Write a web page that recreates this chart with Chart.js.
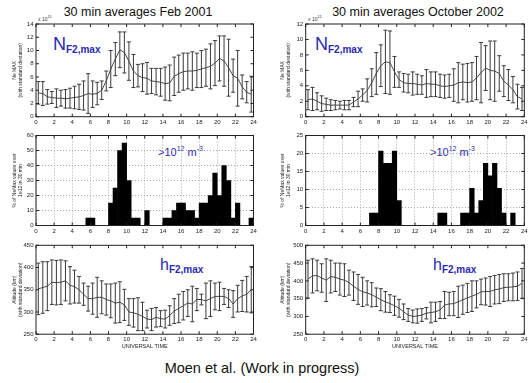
<!DOCTYPE html>
<html><head><meta charset="utf-8">
<script src="https://cdn.jsdelivr.net/npm/chart.js@4"></script>
<style>
body{margin:0;background:#fff;width:531px;height:383px;position:relative;overflow:hidden;font-family:Arial,"Liberation Sans",Helvetica,sans-serif}
canvas{position:absolute;display:block}
.t{position:absolute;white-space:nowrap;line-height:1}
.blue{color:#2a2ab0}
</style></head><body>
<div class="t" style="left:0;width:276px;text-align:center;top:6px;font-size:12.5px;color:#111">30 min averages Feb 2001</div>
<div class="t" style="left:284px;width:268px;text-align:center;top:6px;font-size:12.5px;color:#111">30 min averages October 2002</div>
<div class="t" style="left:0;width:524px;text-align:center;top:361px;font-size:14.5px;color:#111">Moen et al. (Work in progress)</div>

<div class="t" style="left:38px;top:15px;font-size:5px;color:#333">x 10<sup style="font-size:4px">11</sup></div>
<div class="t" style="left:308px;top:15px;font-size:5px;color:#333">x 10<sup style="font-size:4px">11</sup></div>

<div class="t blue" style="left:53px;top:35px;font-size:18px;line-height:18px">N<span style="font-size:10px;font-weight:bold;vertical-align:-3px">F2,max</span></div>
<div class="t blue" style="left:315px;top:35px;font-size:18px;line-height:18px">N<span style="font-size:10px;font-weight:bold;vertical-align:-3px">F2,max</span></div>

<div class="t blue" style="left:158px;top:143px;font-size:11px;line-height:11px">&gt;10<sup style="font-size:7px">12</sup> m<sup style="font-size:7px">-3</sup></div>
<div class="t blue" style="left:430px;top:143px;font-size:11px;line-height:11px">&gt;10<sup style="font-size:7px">12</sup> m<sup style="font-size:7px">-3</sup></div>

<div class="t blue" style="left:160px;top:257px;font-size:16px;line-height:16px">h<span style="font-size:10px;font-weight:bold;vertical-align:-3px">F2,max</span></div>
<div class="t blue" style="left:433px;top:257px;font-size:16px;line-height:16px">h<span style="font-size:10px;font-weight:bold;vertical-align:-3px">F2,max</span></div>

<script>
// ---- DATA ----
const hours = [0.25,0.75,1.25,1.75,2.25,2.75,3.25,3.75,4.25,4.75,5.25,5.75,6.25,6.75,7.25,7.75,
  8.25,8.75,9.25,9.75,10.25,10.75,11.25,11.75,12.25,12.75,13.25,13.75,14.25,14.75,15.25,15.75,
  16.25,16.75,17.25,17.75,18.25,18.75,19.25,19.75,20.25,20.75,21.25,21.75,22.25,22.75,23.25,23.75];

// NmF2 (x 1e11), Feb 2001
const febNeMean = [3.6,3.5,3.0,2.9,2.8,2.8,2.7,2.8,2.9,3.0,3.2,3.5,3.4,3.5,4.0,5.4,
  7.2,8.7,10.1,9.7,8.4,6.9,6.2,5.9,5.8,5.4,5.3,5.2,5.0,5.1,6.1,6.5,
  6.8,6.9,6.9,7.0,7.2,7.4,7.6,8.1,8.8,8.4,7.4,6.2,5.8,4.5,3.7,3.4];
const febNeStd = [1.7,1.8,1.1,0.9,1.4,1.2,1.4,1.5,1.7,1.9,2.2,3.0,2.0,1.7,1.4,1.5,
  2.8,2.5,2.7,3.1,2.9,2.5,1.7,2.1,2.4,1.9,2.0,2.1,2.5,2.7,2.9,2.8,
  2.8,2.7,2.9,2.6,2.8,2.8,3.4,3.4,3.4,3.8,4.3,2.5,4.2,1.8,1.6,2.7];

// NmF2 (x 1e11), Oct 2002
const octNeMean = [2.2,2.3,2.0,1.7,1.6,1.5,1.5,1.5,1.5,1.5,1.9,2.3,2.8,3.4,4.4,5.6,
  6.6,7.1,7.0,5.8,4.8,4.4,4.3,4.3,4.2,4.1,4.3,4.2,4.2,4.0,3.9,4.0,
  4.1,4.4,4.5,4.4,4.5,5.0,5.7,6.3,6.0,5.9,5.6,4.6,4.1,3.5,2.6,2.3];
const octNeStd = [1.3,1.5,1.1,1.0,0.8,0.7,0.6,0.5,0.6,0.6,0.6,1.0,0.8,1.5,1.8,2.7,
  2.7,4.1,4.1,2.0,1.0,1.2,1.2,1.5,1.3,1.2,1.8,1.6,1.6,1.5,1.5,1.5,
  2.1,2.6,2.3,2.5,2.5,2.8,3.9,2.9,3.8,3.9,2.3,2.0,2.0,1.7,1.6,1.5];

// % of NmF2 values over 1e12 in 30 min bins
const febPct = [0,0,0,0,0,0,0,0,0,0,0,5,5,0,0,0,
  15,25,50,55,30,5,5,0,10,0,0,0,5,5,10,15,
  15,10,10,5,15,15,20,35,20,40,30,5,15,0,0,5];
const octPct = [0,0,0,0,0,0,0,0,0,0,0,0,0,0,3.45,3.45,
  20.69,17.24,17.24,20.69,6.9,0,0,0,0,0,0,0,0,3.45,3.45,0,
  0,0,3.45,3.45,10.34,3.45,6.9,17.24,13.79,17.24,10.34,3.45,0,3.45,0,0];

// hmF2 (km)
const febHmMean = [352,355,358,367,366,367,370,360,357,350,340,330,330,333,333,328,
  325,320,322,316,300,298,295,290,284,283,288,285,284,292,302,308,
  314,320,318,328,328,325,330,335,335,335,330,318,330,336,340,350];
const febHmStd = [58,58,55,50,50,50,45,42,37,30,25,28,35,45,37,35,
  38,45,46,35,30,32,37,32,20,25,22,18,20,22,28,32,
  32,30,40,25,12,40,40,30,32,18,20,30,30,35,40,52];
const octHmMean = [405,414,415,408,402,412,410,405,402,395,385,376,369,366,361,354,
  347,341,336,330,323,313,304,300,301,304,309,311,313,318,332,335,
  336,341,347,352,357,362,369,370,370,375,377,381,382,383,385,393];
const octHmStd = [53,48,43,40,60,46,40,45,46,35,40,42,41,34,34,26,
  31,29,25,27,25,22,18,18,20,18,16,29,27,24,38,33,
  34,44,41,41,43,38,36,38,42,40,41,39,38,39,40,42];

// ---- RENDERING ----
const FONT = 'Arial, "Liberation Sans", Helvetica, sans-serif';

const boxPlugin = {
  id: 'box',
  afterDraw(chart) {
    const {ctx, chartArea: a, scales: {x, y}} = chart;
    ctx.save();
    ctx.strokeStyle = '#222'; ctx.lineWidth = 1; ctx.setLineDash([]);
    ctx.strokeRect(a.left, a.top, a.right - a.left, a.bottom - a.top);
    ctx.beginPath();
    x.ticks.forEach(t => {
      const px = x.getPixelForValue(t.value);
      ctx.moveTo(px, a.bottom); ctx.lineTo(px, a.bottom - 3);
      ctx.moveTo(px, a.top); ctx.lineTo(px, a.top + 3);
    });
    y.ticks.forEach(t => {
      const py = y.getPixelForValue(t.value);
      ctx.moveTo(a.left, py); ctx.lineTo(a.left + 3, py);
      ctx.moveTo(a.right, py); ctx.lineTo(a.right - 3, py);
    });
    ctx.stroke();
    ctx.restore();
  }
};

const errorBarPlugin = {
  id: 'errbars',
  afterDatasetsDraw(chart) {
    const ds = chart.data.datasets[0];
    if (!ds.errStd) return;
    const {ctx, scales: {x, y}} = chart;
    ctx.save();
    ctx.strokeStyle = '#3a3a3a'; ctx.lineWidth = 1;
    ds.data.forEach((p, i) => {
      const s = ds.errStd[i];
      const px = x.getPixelForValue(p.x);
      const yt = y.getPixelForValue(p.y + s), yb = y.getPixelForValue(p.y - s);
      ctx.beginPath();
      ctx.moveTo(px, yt); ctx.lineTo(px, yb);
      ctx.moveTo(px - 2, yt); ctx.lineTo(px + 2, yt);
      ctx.moveTo(px - 2, yb); ctx.lineTo(px + 2, yb);
      ctx.stroke();
    });
    ctx.restore();
  }
};

function panel(cfg) {
  const c = document.createElement('canvas');
  c.width = cfg.cw; c.height = cfg.ch;
  c.style.left = cfg.cx + 'px'; c.style.top = cfg.cy + 'px';
  c.style.width = cfg.cw + 'px'; c.style.height = cfg.ch + 'px';
  document.body.appendChild(c);
  const yW = cfg.px0 - cfg.cx - cfg.padLeft;
  const xH = cfg.cy + cfg.ch - cfg.py1;
  const padRight = cfg.cx + cfg.cw - cfg.px1;
  const padTop = cfg.py0 - cfg.cy;
  const gridOn = !!cfg.grid;
  const tickFont = {family: FONT, size: 6};
  const titleFont = {family: FONT, size: 5, lineHeight: 1.15};
  new Chart(c, {
    type: cfg.type,
    data: {datasets: [cfg.dataset]},
    options: {
      responsive: false, animation: false, devicePixelRatio: 1,
      layout: {padding: {left: cfg.padLeft, right: padRight, top: padTop, bottom: 0}},
      plugins: {legend: {display: false}, tooltip: {enabled: false}},
      scales: {
        x: {
          type: 'linear', min: 0, max: 24, offset: false,
          ticks: {stepSize: 2, font: tickFont, color: '#222', padding: 2, maxRotation: 0, autoSkip: false},
          grid: {display: gridOn, drawTicks: false, color: '#aaaaaa', offset: false},
          border: {display: false, dash: [1, 2]},
          title: cfg.xTitle ? {display: true, text: cfg.xTitle, font: {family: FONT, size: 5.5}, color: '#222', padding: {top: 0, bottom: 3}} : {display: false},
          afterFit(s) { s.height = xH; }
        },
        y: {
          type: 'linear', min: cfg.ymin, max: cfg.ymax,
          ticks: {stepSize: cfg.ystep, font: tickFont, color: '#222', padding: 2.5, autoSkip: false},
          grid: {display: gridOn, drawTicks: false, color: '#aaaaaa'},
          border: {display: false, dash: [1, 2]},
          title: {display: true, text: cfg.yTitle, font: titleFont, color: '#222', padding: {top: 1, bottom: 0}},
          afterFit(s) { s.width = yW; }
        }
      }
    },
    plugins: [boxPlugin, errorBarPlugin]
  });
}

function lineDs(mean, std) {
  return {data: hours.map((h, i) => ({x: h, y: mean[i]})), errStd: std,
    borderColor: '#4a4a4a', borderWidth: 1, pointRadius: 0, tension: 0, fill: false};
}
function barDs(vals) {
  return {data: hours.map((h, i) => ({x: h, y: vals[i]})), backgroundColor: '#000',
    borderWidth: 0, barPercentage: 1, categoryPercentage: 1};
}

const neTitle = ['Ne MAX', '(with standard deviation)'];
const pctTitle = ['% of NeMax values over', '1e12 in 30 min'];
const hmTitle = ['Altitude (km)', '(with standard deviation)'];

const L = {cx: 0, cw: 265, px0: 36, px1: 253.5, padLeft: 10.5};
const R = {cx: 265, cw: 266, px0: 305.7, px1: 524.3, padLeft: 13.5};
const TOP = {cy: 14, ch: 115, py0: 24, py1: 116.7};
const MID = {cy: 129, ch: 107, py0: 135.5, py1: 225.5};
const BOT = {cy: 236, ch: 117, py0: 245.3, py1: 334.2};

panel({...L, ...TOP, type: 'line', dataset: lineDs(febNeMean, febNeStd), ymin: 0, ymax: 14, ystep: 2, yTitle: neTitle});
panel({...R, ...TOP, type: 'line', dataset: lineDs(octNeMean, octNeStd), ymin: 0, ymax: 12, ystep: 2, yTitle: neTitle});
panel({...L, ...MID, type: 'bar', dataset: barDs(febPct), ymin: 0, ymax: 60, ystep: 10, yTitle: pctTitle, grid: true});
panel({...R, ...MID, type: 'bar', dataset: barDs(octPct), ymin: 0, ymax: 25, ystep: 5, yTitle: pctTitle, grid: true});
panel({...L, ...BOT, type: 'line', dataset: lineDs(febHmMean, febHmStd), ymin: 250, ymax: 450, ystep: 50, yTitle: hmTitle, xTitle: 'UNIVERSAL TIME'});
panel({...R, ...BOT, type: 'line', dataset: lineDs(octHmMean, octHmStd), ymin: 250, ymax: 500, ystep: 50, yTitle: hmTitle, xTitle: 'UNIVERSAL TIME'});
</script>
</body></html>
